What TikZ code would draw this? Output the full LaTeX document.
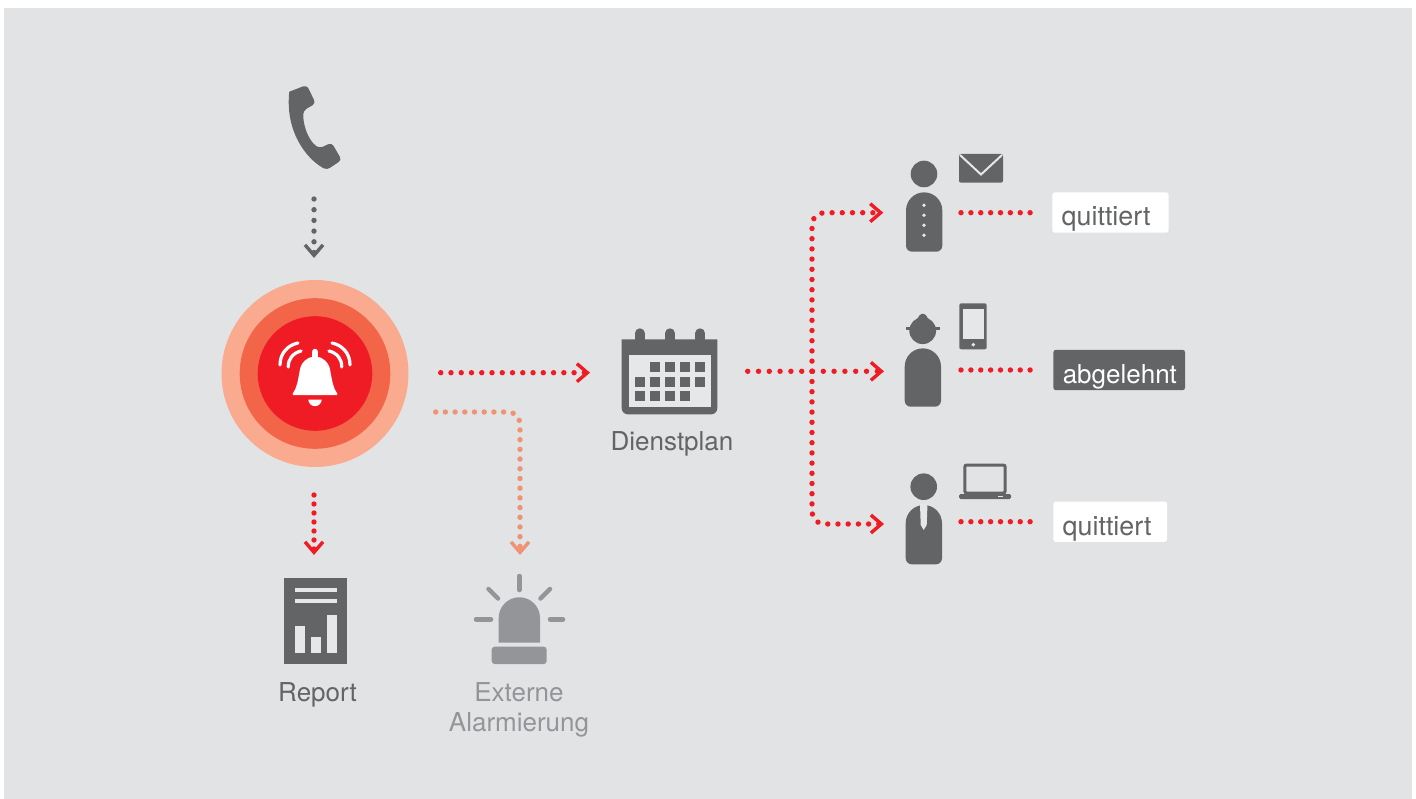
\documentclass[tikz,border=0pt]{standalone}
\usepackage{fontspec}
\setmainfont{TeX Gyre Heros}
\usetikzlibrary{arrows.meta}
\definecolor{panelgrey}{HTML}{E1E3E5}
\definecolor{lightgrey}{HTML}{E6E7E8}
\definecolor{darkgrey}{HTML}{636466}
\definecolor{midgrey}{HTML}{939598}
\definecolor{alarmred}{HTML}{EF1C25}
\definecolor{dotred}{HTML}{F01B23}
\definecolor{ringmid}{HTML}{F26549}
\definecolor{ringout}{HTML}{FAAB8F}
\definecolor{salmon}{HTML}{EE9373}
\tikzset{
  plaindots/.style={line width=5.4pt, line cap=round, dash pattern=on 0pt off #1},
  plaindots/.default=9.87pt,
  dots/.style={plaindots=#1,
    -{Kite[length=0.01pt, width=0.01pt, inset=0pt, sep=8pt] Straight Barb[length=10.5pt, width=18pt, line width=3.4pt]}},
  dots/.default=10.26pt,
  iconbox/.style={inner sep=0pt, outer sep=0pt},
  caption/.style={inner sep=0pt, font=\fontsize{26}{30}\selectfont, anchor=base, align=center},
  statusbox/.style={rounded corners=2.5pt, inner ysep=0pt, inner xsep=9.4pt, outer sep=0pt,
    align=left, text height=33.5pt, text depth=6.9pt, font=\fontsize{26}{30}\selectfont},
  ray/.style={midgrey, line width=4.5pt, line cap=round}
}
\begin{document}
\begin{tikzpicture}[x=1pt, y=-1pt]
  \useasboundingbox (0,0) rectangle (1416,799);
  \fill[white] (0,0) rectangle (1416,799);
  \fill[panelgrey] (4,8) rectangle (1412,799);

  % Telefon
  \node[iconbox, minimum width=52pt, minimum height=85pt] (phone) at (314,127.5) {};
  \fill[darkgrey, rounded corners=3.5pt] (289.3,91.7) -- (306.7,85) -- (315.7,103.3) -- (303.3,110.7)
    .. controls (303,125) and (308,140) .. (319.3,148.3) -- (331.7,142.7) -- (341.7,160) -- (326.7,170)
    .. controls (305,158) and (285,130) .. (289.3,91.7);

  % Alarm
  \node[circle, fill=ringout, iconbox, minimum size=187pt] (alarm) at (315,373.5) {};
  \fill[ringmid] (alarm.center) circle (75.3);
  \fill[alarmred] (alarm.center) circle (57.3);
  \fill[white, rounded corners=1.5pt] (291.7,395) .. controls (297,388) and (298,380) .. (299.5,372)
    .. controls (301,362) and (308,356.7) .. (315,356.7)
    .. controls (322,356.7) and (329,362) .. (330.5,372)
    .. controls (332,380) and (333,388) .. (338.3,395) -- cycle;
  \draw[white, line width=6.5pt, line cap=round] (315,352) -- (315,358);
  \fill[white] (308.3,399.5) -- (321.7,399.5) arc (0:180:6.7) -- cycle;
  \draw[white, line width=3.2pt, line cap=round]
    (280,365) .. controls (280,353) and (288,345) .. (298,343)
    (288.3,367) .. controls (288,359) and (293,353) .. (301,351)
    (350,365) .. controls (350,353) and (342,345) .. (332,343)
    (341.7,367) .. controls (342,359) and (337,353) .. (329,351);

  % Dienstplan
  \node[iconbox, minimum width=95.6pt, minimum height=87pt] (plan) at (669.5,371.3) {};
  \foreach \x in {639.7,670,700.3}
    \draw[darkgrey, line width=10pt, line cap=round] (\x,345) -- (\x,333.3);
  \fill[darkgrey] (621.7,339.3) -- (717.3,339.3) [rounded corners=6pt] -- (717.3,414.3) -- (621.7,414.3) [sharp corners] -- cycle;
  \fill[lightgrey] (629,355.3) rectangle (710.7,407.3);
  \foreach \x in {650,665,680,695}
    \fill[darkgrey] (\x,361.7) rectangle ++(10,10);
  \foreach \x in {635,650,665,680,695}
    \fill[darkgrey] (\x,377) rectangle ++(10,10);
  \foreach \x in {635,650,665,680}
    \fill[darkgrey] (\x,391) rectangle ++(10,10);
  \node[caption, text=darkgrey] (plantext) at (672,450.3) {Dienstplan};

  % Report
  \node[iconbox, fill=darkgrey, minimum width=63.3pt, minimum height=86.3pt] (report) at (315.7,620.8) {};
  \fill[lightgrey] (295,587.7) rectangle (336.7,592.3);
  \fill[lightgrey] (295,598.7) rectangle (336.7,603.3);
  \fill[lightgrey] (295,626) rectangle (305,652.7);
  \fill[lightgrey] (310.7,636.7) rectangle (320.7,652.7);
  \fill[lightgrey] (326.7,615) rectangle (336.7,652.7);
  \node[caption, text=darkgrey] (reporttext) at (317.5,701.7) {Report};

  % Externe Alarmierung
  \node[iconbox, minimum width=88pt, minimum height=89pt] (siren) at (520,619.5) {};
  \fill[midgrey] (498.7,642.7) -- (498.7,617.9) arc (180:360:20.65) -- (540,642.7) -- cycle;
  \fill[midgrey, rounded corners=3pt] (491.7,646.7) rectangle (546.7,664);
  \draw[ray] (519.3,576) -- (519.3,590);
  \draw[ray] (488.5,589) -- (498,598.5);
  \draw[ray] (550,589) -- (540.5,598.5);
  \draw[ray] (476,619.3) -- (491,619.3);
  \draw[ray] (550,619.3) -- (563,619.3);
  \node[caption, text=midgrey] (sirentext) at (519,731.2) {Externe\\Alarmierung};

  % Mitarbeiter 1
  \node[iconbox, minimum width=36.3pt, minimum height=40pt] (personA) at (924.15,212.7) {};
  \fill[darkgrey] (924,174) circle (13.3);
  \fill[darkgrey] (906,210.5) arc (180:360:18.15) [rounded corners=6pt] -- (942.3,251.7) -- (906,251.7) [sharp corners] -- cycle;
  \foreach \y in {205.3,215.3,225.3,235.3}
    \fill[lightgrey] (924,\y) circle (1.9);
  \fill[darkgrey, rounded corners=2pt] (959,154) rectangle (1003,182.7);
  \draw[lightgrey, line width=2pt] (960,155) -- (981,174.5) -- (1002,155);
  \node[statusbox, fill=white, text=darkgrey, text width=97.6pt, font=\fontsize{26.8}{30}\selectfont] (statusA) at (1110.5,212.5) {quittiert};

  % Mitarbeiter 2
  \node[iconbox, minimum width=36.3pt, minimum height=40pt] (personB) at (922.85,371.3) {};
  \fill[darkgrey] (922.7,330.7) circle (13.4);
  \fill[darkgrey, rounded corners=1.5pt] (916.5,320) -- (920.5,313.8) -- (925,313.8) -- (929,320) -- cycle;
  \fill[darkgrey] (905.7,327) rectangle (940,330);
  \fill[darkgrey] (904.7,366.5) arc (180:360:18.15) [rounded corners=6pt] -- (941,406.7) -- (904.7,406.7) [sharp corners] -- cycle;
  \fill[darkgrey, rounded corners=2pt] (959.3,303.3) rectangle (986.7,349.3);
  \fill[lightgrey] (962.7,308.7) rectangle (984,339);
  \fill[lightgrey] (973.3,344.7) circle (1.9);
  \node[statusbox, fill=darkgrey, text=white, text width=112.9pt] (statusB) at (1119.2,370) {abgelehnt};

  % Mitarbeiter 3
  \node[iconbox, minimum width=36.3pt, minimum height=40pt] (personC) at (923.85,524) {};
  \fill[darkgrey] (923.7,486.7) circle (13.3);
  \fill[darkgrey] (905.7,523.2) arc (180:360:18.15) [rounded corners=6pt] -- (942,564.3) -- (905.7,564.3) [sharp corners] -- cycle;
  \fill[lightgrey] (920,504) -- (927.5,504) -- (926.7,525) -- (923.7,530) -- (920.7,525) -- cycle;
  \draw[darkgrey, line width=3pt, rounded corners=2pt] (964.8,465) rectangle (1005.2,493);
  \fill[darkgrey, rounded corners=1.5pt] (959,494) rectangle (1011,499);
  \fill[lightgrey] (998.3,495.7) rectangle (1003.3,497);
  \node[statusbox, fill=white, text=darkgrey, text width=95pt, font=\fontsize{26.8}{30}\selectfont] (statusC) at (1110.2,521.7) {quittiert};

  % Verbindungen
  \coordinate (alarmright) at (408.5,372.7);
  \coordinate (alarmout) at (435.7,412);
  \coordinate (split) at (812,371.3);
  \draw[dots=10.7pt, darkgrey, shorten <=29pt, shorten >=22pt] (phone.south) -- (phone.south |- alarm.north);
  \draw[dots=9pt, dotred, shorten <=28pt, shorten >=22.7pt] (phone.south |- alarm.south) -- (phone.south |- report.north);
  \draw[dots, dotred, shorten <=32.2pt, shorten >=31.7pt] (alarmright) -- (plan.west |- alarmright);
  \draw[dots=9.7pt, salmon, rounded corners=12pt, shorten >=20pt] (alarmout) -| (siren.north);
  \draw[dots=10.8pt, dotred, shorten <=30.4pt, shorten >=20.7pt] (plan.east) -- (personB.west);
  \draw[dots=10.2pt, dotred, rounded corners=12pt, shorten >=22.7pt] (split) |- (personA.west);
  \draw[dots=10.2pt, dotred, rounded corners=12pt, shorten >=21.7pt] (split) |- (personC.west);
  \draw[plaindots, dotred, shorten <=18.7pt, shorten >=22pt] (personA.east) -- (statusA.west |- personA.east);
  \draw[plaindots, dotred, shorten <=20pt, shorten >=23pt] (personB.east |- statusB.west) -- (statusB.west);
  \draw[plaindots, dotred, shorten <=19pt, shorten >=23pt] (personC.east |- statusC.west) -- (statusC.west);
\end{tikzpicture}
\end{document}
